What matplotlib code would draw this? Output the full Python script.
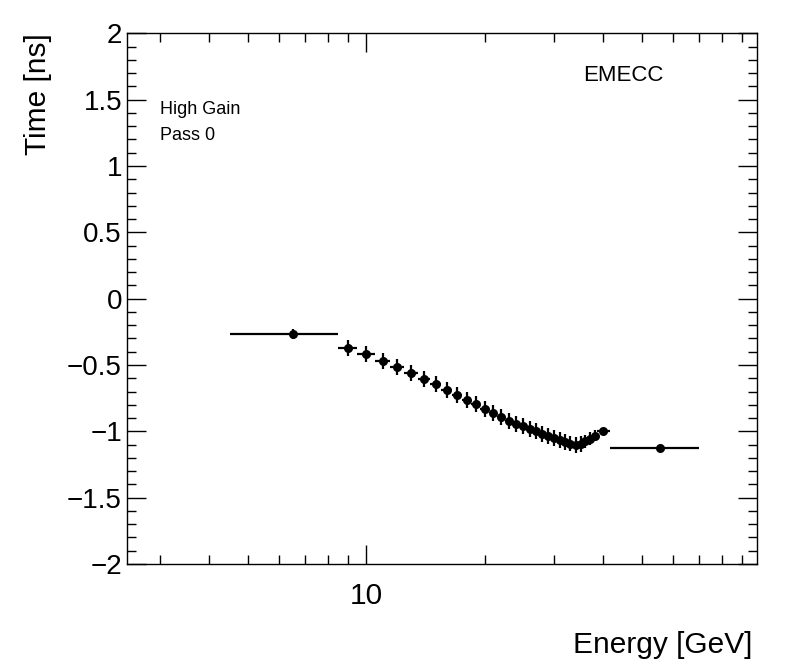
#!/usr/bin/env python3
import numpy as np
import matplotlib
matplotlib.use('Agg')
import matplotlib.pyplot as plt
from matplotlib.ticker import LogLocator, NullFormatter, FixedLocator, FixedFormatter, MultipleLocator

plt.rc('font', family=['Liberation Sans', 'DejaVu Sans'])

# energy bins [GeV] and mean time [ns]
bin_lo = [4.5, 8.5, 9.5, 10.5, 11.5, 12.5, 13.5, 14.5, 15.5, 16.5, 17.5, 18.5,
          19.5, 20.5, 21.5, 22.5, 23.5, 24.5, 25.5, 26.5, 27.5, 28.5, 29.5,
          30.5, 31.5, 32.5, 33.5, 34.5, 35.5, 36.5, 37.5, 38.5, 41.5]
bin_hi = [8.5, 9.5, 10.5, 11.5, 12.5, 13.5, 14.5, 15.5, 16.5, 17.5, 18.5, 19.5,
          20.5, 21.5, 22.5, 23.5, 24.5, 25.5, 26.5, 27.5, 28.5, 29.5, 30.5,
          31.5, 32.5, 33.5, 34.5, 35.5, 36.5, 37.5, 38.5, 41.5, 70.0]
time = [-0.266, -0.374, -0.417, -0.469, -0.517, -0.562, -0.605, -0.645, -0.690,
        -0.726, -0.763, -0.793, -0.829, -0.859, -0.889, -0.919, -0.944, -0.963,
        -0.982, -1.000, -1.018, -1.035, -1.050, -1.065, -1.080, -1.092, -1.100,
        -1.095, -1.075, -1.055, -1.032, -0.997, -1.127]
time_err = [0.04, 0.06, 0.06, 0.06, 0.06, 0.06, 0.06, 0.06, 0.06, 0.06, 0.06,
            0.06, 0.06, 0.06, 0.06, 0.06, 0.06, 0.06, 0.06, 0.06, 0.06, 0.06,
            0.06, 0.06, 0.06, 0.06, 0.06, 0.06, 0.05, 0.05, 0.04, 0.02, 0.02]

W, H = 796, 672
ax_l, ax_r, ax_t, ax_b = 127, 756.7, 33.3, 564


def main():
    lo = np.array(bin_lo)
    hi = np.array(bin_hi)
    x = 0.5 * (lo + hi)

    fig = plt.figure(figsize=(W / 100, H / 100), dpi=100)
    ax = fig.add_axes([ax_l / W, 1 - ax_b / H, (ax_r - ax_l) / W, (ax_b - ax_t) / H])

    ax.errorbar(x, time, xerr=[x - lo, hi - x], yerr=time_err, fmt='o',
                color='black', ms=6.5, elinewidth=1.6, capsize=0, mew=0)

    ax.set_xscale('log')
    ax.set_xlim(2.47, 98)
    ax.set_ylim(-2, 2)

    # ROOT style: single labelled decade, inward ticks on all four sides
    ax.xaxis.set_major_locator(FixedLocator([10]))
    ax.xaxis.set_major_formatter(FixedFormatter(['10']))
    ax.xaxis.set_minor_locator(LogLocator(base=10, subs=np.arange(2, 10)))
    ax.xaxis.set_minor_formatter(NullFormatter())
    ax.yaxis.set_major_locator(MultipleLocator(0.5))
    ax.yaxis.set_minor_locator(MultipleLocator(0.1))
    ax.yaxis.set_major_formatter(plt.FuncFormatter(lambda v, p: ('%g' % v).replace('-', '\u2212')))

    ax.tick_params(which='both', direction='in', top=True, right=True, width=1)
    ax.tick_params(which='major', length=13.7)
    ax.tick_params(which='minor', length=6.5)
    ax.tick_params(axis='y', pad=3.6, labelsize=20)
    ax.tick_params(axis='x', pad=13.1, labelsize=21.5)
    for s in ax.spines.values():
        s.set_linewidth(1)

    ax.set_xlabel('Energy [GeV]', fontsize=21.5, loc='right')
    ax.xaxis.label.set_va('baseline')
    ax.xaxis.set_label_coords(0.9925, -0.1677)
    ax.set_ylabel('Time [ns]', fontsize=21.5, loc='top')
    ax.yaxis.set_label_coords(-0.119, 1.0)

    ax.text(0.0524, 0.848, 'High Gain', transform=ax.transAxes, fontsize=13)
    ax.text(0.0524, 0.799, 'Pass 0', transform=ax.transAxes, fontsize=13)
    ax.text(0.7237, 0.910, 'EMECC', transform=ax.transAxes, fontsize=16)

    fig.savefig('out.png', dpi=100)


if __name__ == '__main__':
    main()
